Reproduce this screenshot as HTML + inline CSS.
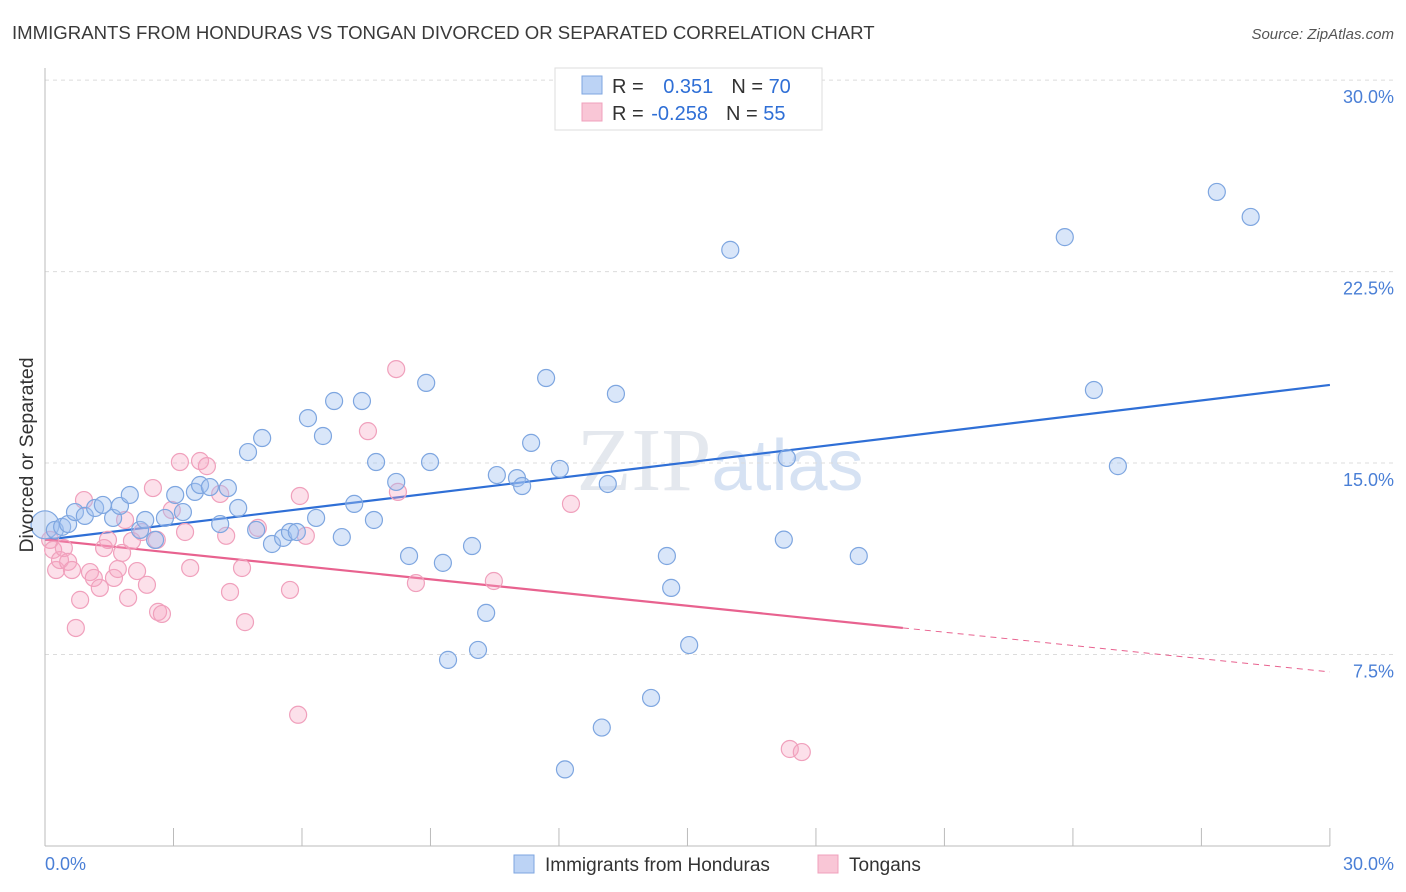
<!DOCTYPE html>
<html><head><meta charset="utf-8"><style>
body{margin:0;background:#fff;font-family:"Liberation Sans",sans-serif;}
svg{display:block}
</style></head><body>
<svg id="chart" width="1406" height="892" xmlns="http://www.w3.org/2000/svg">
<text x="12" y="39" font-size="18.6" fill="#3a3a3a">IMMIGRANTS FROM HONDURAS VS TONGAN DIVORCED OR SEPARATED CORRELATION CHART</text>
<text x="1394" y="39" font-size="15" fill="#555" text-anchor="end" font-style="italic">Source: ZipAtlas.com</text>
<text x="720" y="490" font-size="90" fill="#e4e8ee" text-anchor="middle" font-family="Liberation Serif,serif">ZIP<tspan fill="#d6e2f3" font-family="Liberation Sans,sans-serif" font-size="72">atlas</tspan></text>
<g id="grid"></g>
<g id="axes"></g>
<g id="trends"></g>
<g id="points"></g>
<text transform="translate(33,455) rotate(-90)" font-size="19.5" fill="#333" text-anchor="middle">Divorced or Separated</text>
<text x="45" y="870" font-size="18" fill="#4a7fd6">0.0%</text>
<text x="1394" y="870" font-size="18" fill="#4a7fd6" text-anchor="end">30.0%</text>
<g>
<rect x="555" y="68" width="267" height="62" fill="#fff" stroke="#ddd"/>
<rect x="582" y="76" width="20" height="18" fill="#bcd3f5" stroke="#7ea6e0"/>
<rect x="582" y="103" width="20" height="18" fill="#f9c6d6" stroke="#f0a0bc"/>
<text x="612" y="93" font-size="20" fill="#333">R = <tspan fill="#2f6fd6" dx="14">0.351</tspan><tspan dx="18">N = </tspan><tspan fill="#2f6fd6">70</tspan></text>
<text x="612" y="120" font-size="20" fill="#333">R = <tspan fill="#2f6fd6" dx="2">-0.258</tspan><tspan dx="18">N = </tspan><tspan fill="#2f6fd6">55</tspan></text>
</g>
<g>
<rect x="514" y="855" width="20" height="18" fill="#bcd3f5" stroke="#7ea6e0"/>
<text x="545" y="871" font-size="19" fill="#333">Immigrants from Honduras</text>
<rect x="818" y="855" width="20" height="18" fill="#f9c6d6" stroke="#f0a0bc"/>
<text x="849" y="871" font-size="19" fill="#333">Tongans</text>
</g>
</svg>
<script>
const yTicks=[7.5,15,22.5,30];
const yTickLabels=["7.5%","15.0%","22.5%","30.0%"];
const xTicks=[0,3,6,9,12,15,18,21,24,27,30];
const blueX=[0,0.23,0.4,0.54,0.7,0.93,1.17,1.35,1.59,1.75,1.98,2.22,2.34,2.57,2.8,3.04,3.22,3.5,3.62,3.85,4.09,4.27,4.51,4.74,4.93,5.07,5.3,5.56,5.72,5.88,6.14,6.33,6.49,6.75,6.93,7.22,7.4,7.68,7.73,8.2,8.5,8.9,8.99,9.29,9.41,9.97,10.11,10.3,10.55,11.02,11.14,11.35,11.7,12.02,12.14,13.0,13.14,13.33,14.15,14.52,14.62,15.04,16.0,17.25,17.32,19.0,23.81,24.49,25.05,27.36,28.15];
const blueY=[12.58,12.38,12.5,12.61,13.08,12.93,13.24,13.36,12.85,13.32,13.75,12.38,12.77,11.99,12.85,13.75,13.08,13.87,14.14,14.06,12.61,14.02,13.24,15.43,12.38,15.98,11.83,12.07,12.3,12.3,16.76,12.85,16.06,17.43,12.1,13.4,17.43,12.77,15.04,14.26,11.36,18.14,15.04,11.09,7.29,11.75,7.68,9.13,14.53,14.41,14.1,15.79,18.33,14.77,3.00,4.64,14.18,17.71,5.8,11.36,10.11,7.87,23.35,12.0,15.2,11.36,23.85,17.86,14.88,25.62,24.64];
const pinkX=[0.12,0.19,0.26,0.35,0.44,0.54,0.63,0.72,0.82,0.91,1.05,1.14,1.28,1.38,1.47,1.61,1.7,1.8,1.87,1.94,2.03,2.15,2.27,2.38,2.52,2.61,2.64,2.73,2.96,3.15,3.27,3.39,3.62,3.78,4.09,4.23,4.32,4.6,4.67,4.97,5.72,5.91,5.95,6.09,7.54,8.2,8.24,8.66,10.48,12.28,17.39,17.67];
const pinkY=[11.99,11.6,10.81,11.2,11.67,11.13,10.81,8.54,9.64,13.55,10.73,10.5,10.11,11.67,11.99,10.5,10.85,11.48,12.77,9.72,11.95,10.77,12.3,10.23,14.02,11.99,9.17,9.09,13.16,15.04,12.3,10.89,15.08,14.88,13.79,12.15,9.95,10.89,8.77,12.46,10.03,5.14,13.71,12.15,16.25,18.68,13.87,10.3,10.38,13.4,3.8,3.68];
const blueTrend=[11.99,18.06];
const pinkTrend=[12.0,6.82];
const pinkSolidEnd=20.03;
const NS="http://www.w3.org/2000/svg";
const X=v=>45+v*42.83, Y=v=>846-v*25.53;
function mk(t,a,p){const e=document.createElementNS(NS,t);for(const k in a)e.setAttribute(k,a[k]);p.appendChild(e);return e;}
const grid=document.getElementById('grid'),axes=document.getElementById('axes'),tr=document.getElementById('trends'),pts=document.getElementById('points');
yTicks.forEach((t,i)=>{
 const l=mk('line',{x1:45,x2:1394,y1:Y(t),y2:Y(t),stroke:'#dcdcdc','stroke-dasharray':'4,4'},grid);
 
 
 const tx=mk('text',{x:1394,y:Y(t)+23,'font-size':18,fill:'#4a7fd6','text-anchor':'end'},grid);
 tx.textContent=yTickLabels[i];
 
 
});
const ya=mk('line',{x1:45,x2:45,y1:68,y2:846,stroke:'#bbb'},axes);


const xa=mk('line',{x1:45,x2:1330,y1:846,y2:846,stroke:'#bbb'},axes);


xTicks.forEach(t=>{
 const l=mk('line',{x1:X(t),x2:X(t),y1:828,y2:846,stroke:'#bbb'},axes);
 
 
});
const bt=mk('line',{x1:X(0),y1:Y(blueTrend[0]),x2:X(30),y2:Y(blueTrend[1]),stroke:'#2f6fd6','stroke-width':2.2},tr);


const pAt=x=>pinkTrend[0]+(pinkTrend[1]-pinkTrend[0])*x/30;
const ps=mk('line',{x1:X(0),y1:Y(pinkTrend[0]),x2:X(pinkSolidEnd),y2:Y(pAt(pinkSolidEnd)),stroke:'#e8628f','stroke-width':2.2},tr);


const pd=mk('line',{x1:X(pinkSolidEnd),y1:Y(pAt(pinkSolidEnd)),x2:X(30),y2:Y(pinkTrend[1]),stroke:'#e8628f','stroke-width':1,'stroke-dasharray':'6,5'},tr);


pinkX.forEach((x,i)=>{
 const c=mk('circle',{cx:X(x),cy:Y(pinkY[i]),r:8.5,fill:'rgba(245,165,195,0.35)',stroke:'#f0a0bc','stroke-width':1.2},pts);
 
 
});
blueX.forEach((x,i)=>{
 const c=mk('circle',{cx:X(x),cy:Y(blueY[i]),r:i==0?14:8.5,fill:'rgba(160,192,240,0.4)',stroke:'#7ea6e0','stroke-width':1.2},pts);
 
 
});
</script>
</body></html>
